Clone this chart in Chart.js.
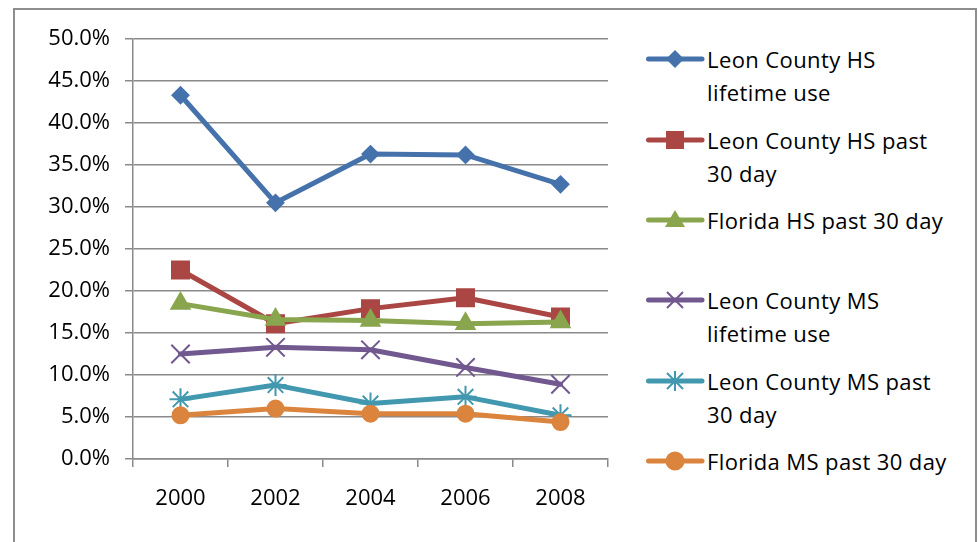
<!DOCTYPE html>
<html>
<head>
<meta charset="utf-8">
<script src="https://cdn.jsdelivr.net/npm/chart.js@4.4.1/dist/chart.umd.min.js"></script>
<style>
body{margin:0;width:980px;height:542px;overflow:hidden;background:#fff;font-family:"Open Sans",sans-serif;}
#frame{position:absolute;left:13px;top:8px;width:964px;height:600px;border:2px solid #8d8d8d;box-sizing:border-box;}
#wrap{position:absolute;left:2px;top:0;width:621px;height:542px;}
#legend{position:absolute;left:646px;top:0;}
.item{position:absolute;left:0;width:330px;height:70px;}
.item svg{position:absolute;left:0;top:4.5px;}
.item span{position:absolute;left:61px;top:0;font-size:22px;letter-spacing:0.4px;line-height:33px;color:#000;white-space:nowrap;}
</style>
</head>
<body>
<div id="frame"></div>
<div id="wrap"><canvas id="line-chart"></canvas></div>
<div id="legend"></div>
<script>
const years = ["2000","2002","2004","2006","2008"];
const yTicks = [0,5,10,15,20,25,30,35,40,45,50];

const leonHsLifetime = [43.3, 30.5, 36.3, 36.2, 32.7];
const leonHs30 = [22.5, 16.1, 17.9, 19.2, 16.9];
const floridaHs30 = [18.5, 16.6, 16.5, 16.1, 16.3];
const leonMsLifetime = [12.5, 13.3, 13.0, 10.9, 8.9];
const leonMs30 = [7.1, 8.8, 6.6, 7.4, 5.2];
const floridaMs30 = [5.2, 6.0, 5.4, 5.4, 4.4];

const labels = [
  ["Leon County HS", "lifetime use"],
  ["Leon County HS past", "30 day"],
  ["Florida HS past 30 day"],
  ["Leon County MS", "lifetime use"],
  ["Leon County MS past", "30 day"],
  ["Florida MS past 30 day"]
];
const values = [leonHsLifetime, leonHs30, floridaHs30, leonMsLifetime, leonMs30, floridaMs30];
const colors = ["#4672AC", "#AA4643", "#89A54E", "#71588F", "#4198AF", "#DB843D"];
const markers = ["rectRot", "rect", "triangle", "crossRot", "star", "circle"];
const radii = [8, 12, 10.5, 13, 11, 8];

const datasets = values.map(function (v, i) {
  return {
    label: labels[i].join(" "),
    data: v,
    borderColor: colors[i],
    backgroundColor: colors[i],
    borderWidth: 5,
    borderJoinStyle: "round",
    borderCapStyle: "round",
    pointStyle: markers[i],
    pointRadius: radii[i],
    pointHoverRadius: radii[i],
    pointBorderWidth: 2,
    pointBorderColor: colors[i],
    pointBackgroundColor: colors[i],
    tension: 0,
    fill: false,
    order: 5 - i
  };
});

new Chart(document.getElementById("line-chart"), {
  type: "line",
  data: { labels: years, datasets: datasets },
  options: {
    responsive: true,
    maintainAspectRatio: false,
    animation: false,
    events: [],
    layout: { padding: { left: 0, top: 39, right: 12, bottom: 0 } },
    plugins: { legend: { display: false }, title: { display: false }, tooltip: { enabled: false } },
    scales: {
      x: {
        offset: true,
        grid: { offset: true, drawOnChartArea: false, drawTicks: true, tickLength: 8, color: "#8a8a8a", lineWidth: 1.5 },
        border: { color: "#8a8a8a", width: 1.5 },
        ticks: { color: "#000", padding: 19, font: { family: "Open Sans", size: 22 } },
        afterFit: function (s) { s.height = 83; }
      },
      y: {
        min: 0,
        max: 50,
        afterBuildTicks: function (axis) { axis.ticks = yTicks.map(function (v) { return { value: v }; }); },
        grid: { color: "#8a8a8a", lineWidth: 1.5, tickLength: 8 },
        border: { color: "#8a8a8a", width: 1.5 },
        ticks: {
          color: "#000",
          padding: 15,
          font: { family: "Open Sans", size: 22 },
          callback: function (v) { return Number(v).toFixed(1) + "%"; }
        },
        afterFit: function (s) { s.width = 131; }
      }
    }
  }
});

// legend drawn as html with svg samples
var tops = [59, 140, 220, 300, 381, 461];
var NS = "http://www.w3.org/2000/svg";
function markerSvg(style, c) {
  var cx = 29, cy = 12;
  switch (style) {
    case "rectRot": return '<polygon points="' + (cx-9) + ',' + cy + ' ' + cx + ',' + (cy-9) + ' ' + (cx+9) + ',' + cy + ' ' + cx + ',' + (cy+9) + '" fill="' + c + '"/>';
    case "rect": return '<rect x="' + (cx-9) + '" y="' + (cy-9) + '" width="18" height="18" fill="' + c + '"/>';
    case "triangle": return '<polygon points="' + cx + ',' + (cy-10) + ' ' + (cx+10) + ',' + (cy+7) + ' ' + (cx-10) + ',' + (cy+7) + '" fill="' + c + '"/>';
    case "crossRot": return '<path d="M' + (cx-8) + ' ' + (cy-8) + 'L' + (cx+8) + ' ' + (cy+8) + 'M' + (cx+8) + ' ' + (cy-8) + 'L' + (cx-8) + ' ' + (cy+8) + '" stroke="' + c + '" stroke-width="2"/>';
    case "star": return '<path d="M' + (cx-8) + ' ' + (cy-8) + 'L' + (cx+8) + ' ' + (cy+8) + 'M' + (cx+8) + ' ' + (cy-8) + 'L' + (cx-8) + ' ' + (cy+8) + 'M' + cx + ' ' + (cy-10) + 'L' + cx + ' ' + (cy+10) + '" stroke="' + c + '" stroke-width="2"/>';
    default: return '<circle cx="' + cx + '" cy="' + cy + '" r="9.5" fill="' + c + '"/>';
  }
}
var legend = document.getElementById("legend");
labels.forEach(function (lab, i) {
  var div = document.createElement("div");
  div.className = "item";
  div.style.top = (tops[i] - 16.5) + "px";
  div.innerHTML = '<svg xmlns="' + NS + '" width="60" height="24">' +
    '<line x1="2.5" y1="12" x2="56" y2="12" stroke="' + colors[i] + '" stroke-width="5" stroke-linecap="round"/>' +
    markerSvg(markers[i], colors[i]) + '</svg><span>' + lab.join("<br>") + '</span>';
  legend.appendChild(div);
});
</script>
</body>
</html>
